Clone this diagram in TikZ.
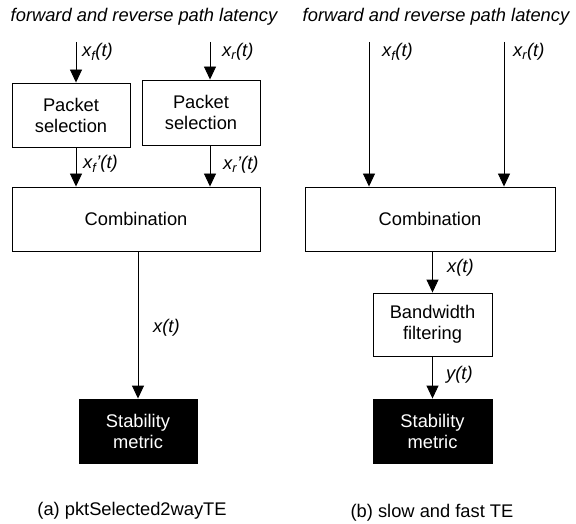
\documentclass[tikz,border=0pt]{standalone}
\usepackage{fontspec}
\setmainfont{Liberation Sans}
\usetikzlibrary{arrows.meta}
\begin{document}
\begin{tikzpicture}[x=1bp,y=-1bp,
  every node/.style={font=\fontsize{18.3bp}{21bp}\selectfont},
  box/.style={draw, line width=0.9bp, minimum width=118bp, minimum height=64bp, align=center, inner sep=0},
  blk/.style={box, fill=black, text=white},
  lbl/.style={anchor=west, inner sep=0, font=\fontsize{18.3bp}{21bp}\selectfont\itshape},
  ttl/.style={inner sep=0, font=\fontsize{18.3bp}{21bp}\selectfont\itshape},
  arr/.style={line width=0.9bp, -{Triangle[length=13bp,width=12bp]}},
]
\useasboundingbox (0,0) rectangle (576,524);

% ---------- left panel ----------
\node[ttl] (t1) at (144,17) {forward and reverse path latency};
\node[box] (p1) at (71,115) {Packet\\selection};
\node[box, minimum height=65bp] (p2) at (201,112.5) {Packet\\selection};
\node[box, minimum width=248bp] (c1) at (136,219) {Combination};
\node[blk] (s1) at (138,431) {Stability\\metric};

\coordinate (a1) at (76,42);
\coordinate (a2) at (210,42);
\draw[arr] (a1) -- (a1 |- p1.north);
\draw[arr] (a2) -- (a2 |- p2.north);
\draw[arr] (a1 |- p1.south) -- (a1 |- c1.north);
\draw[arr] (a2 |- p2.south) -- (a2 |- c1.north);
\draw[arr] (s1.north |- c1.south) -- (s1.north);

\node[lbl] (l1) at (82,52) {x\textsubscript{f}(t)};
\node[lbl] (l2) at (222,52) {x\textsubscript{r}(t)};
\node[lbl] (l3) at (83,164) {x\textsubscript{f}’(t)};
\node[lbl] (l4) at (223,165) {x\textsubscript{r}’(t)};
\node[lbl] (l5) at (153,328) {x(t)};

\node[inner sep=0] (cap1) at (132,511) {(a) pktSelected2wayTE};

% ---------- right panel ----------
\node[ttl] (t2) at (436,17) {forward and reverse path latency};
\node[box, minimum width=250bp] (c2) at (430,219) {Combination};
\node[box, minimum width=119bp, minimum height=63bp] (bw) at (432.5,324.5) {Bandwidth\\filtering};
\node[blk, minimum width=119bp] (s2) at (432.5,431) {Stability\\metric};

\coordinate (b1) at (369,42);
\coordinate (b2) at (504,42);
\draw[arr] (b1) -- (b1 |- c2.north);
\draw[arr] (b2) -- (b2 |- c2.north);
\draw[arr] (bw.north |- c2.south) -- (bw.north);
\draw[arr] (bw.south) -- (s2.north);

\node[lbl] (m1) at (382,52) {x\textsubscript{f}(t)};
\node[lbl] (m2) at (513,52) {x\textsubscript{r}(t)};
\node[lbl] (m3) at (447,268) {x(t)};
\node[lbl] (m4) at (446,375) {y(t)};

\node[inner sep=0] (cap2) at (432,513) {(b) slow and fast TE};
\end{tikzpicture}
\end{document}
